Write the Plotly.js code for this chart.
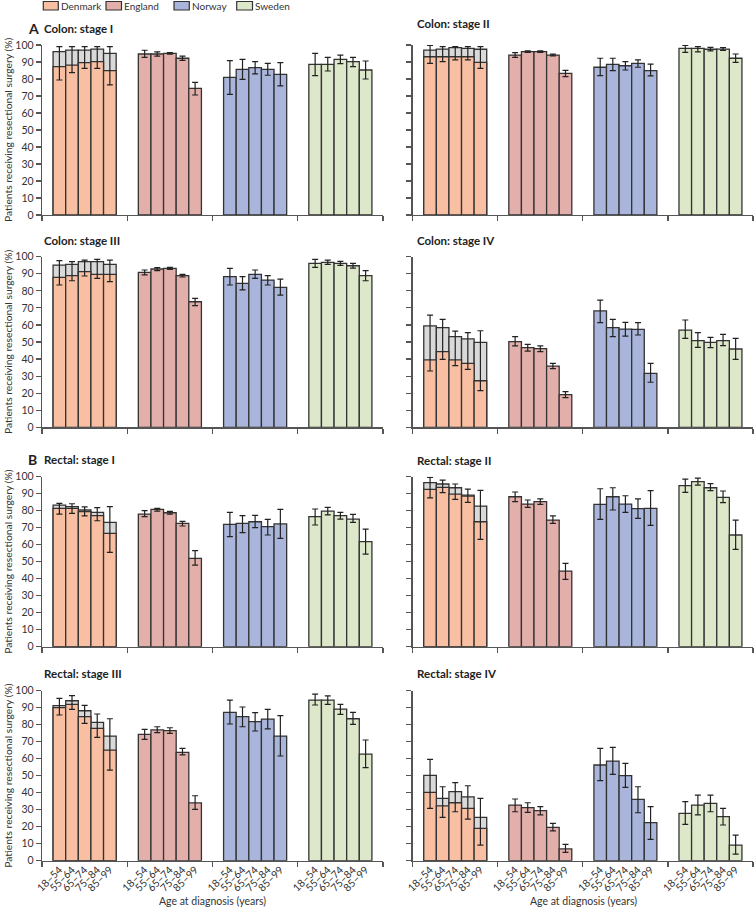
<!DOCTYPE html>
<html>
<head>
<meta charset="utf-8">
<script src="https://cdn.plot.ly/plotly-3.0.1.min.js"></script>
<style>
html,body{margin:0;padding:0;background:#fff;}
#chart{width:755px;height:908px;}
</style>
</head>
<body>
<div id="chart"></div>
<script>
// ---------- categories ----------
const ages = ['18–54', '55–64', '65–74', '75–84', '85–99'];
const countries = ['Denmark', 'England', 'Norway', 'Sweden'];
const panelTitles = ['Colon: stage I', 'Colon: stage II', 'Colon: stage III', 'Colon: stage IV',
                     'Rectal: stage I', 'Rectal: stage II', 'Rectal: stage III', 'Rectal: stage IV'];
const yTicks = [0, 10, 20, 30, 40, 50, 60, 70, 80, 90, 100];

// ---------- Colon stage I ----------
const colon1_DK = [87.3, 88.2, 89.6, 90.2, 84.9];
const colon1_DKgrey = [96.1, 97.0, 97.0, 97.6, 95.1];
const colon1_DKlo = [79.4, 83.7, 86.3, 86.3, 76.5];
const colon1_DKhi = [99.0, 99.0, 99.0, 99.0, 99.0];
const colon1_EN = [94.7, 94.7, 95.1, 92.2, 74.5];
const colon1_ENlo = [92.7, 93.5, 94.6, 91.0, 70.6];
const colon1_ENhi = [96.9, 95.9, 95.6, 93.4, 78.0];
const colon1_NO = [81.0, 85.7, 86.7, 85.7, 82.7];
const colon1_NOlo = [71.0, 79.8, 83.0, 82.2, 75.9];
const colon1_NOhi = [90.8, 91.6, 90.2, 89.2, 89.6];
const colon1_SE = [88.6, 88.6, 91.6, 90.2, 85.3];
const colon1_SElo = [82.0, 84.7, 89.0, 87.3, 80.0];
const colon1_SEhi = [95.1, 92.7, 94.1, 92.7, 90.6];

// ---------- Colon stage II ----------
const colon2_DK = [93.1, 93.1, 93.1, 93.1, 89.8];
const colon2_DKgrey = [97.0, 97.6, 98.4, 98.0, 97.5];
const colon2_DKlo = [89.2, 90.2, 91.2, 91.2, 86.3];
const colon2_DKhi = [99.8, 99.0, 99.0, 99.0, 99.0];
const colon2_EN = [94.1, 96.1, 96.1, 94.1, 83.3];
const colon2_ENlo = [92.7, 95.6, 95.7, 93.6, 81.4];
const colon2_ENhi = [95.5, 96.6, 96.5, 94.6, 85.1];
const colon2_NO = [86.9, 88.6, 87.8, 89.2, 84.9];
const colon2_NOlo = [82.0, 84.9, 85.3, 86.9, 81.8];
const colon2_NOhi = [92.2, 92.2, 90.2, 91.2, 88.8];
const colon2_SE = [98.0, 98.0, 97.5, 97.6, 92.2];
const colon2_SElo = [95.7, 96.0, 96.5, 96.8, 89.8];
const colon2_SEhi = [99.8, 99.0, 98.6, 98.4, 94.7];

// ---------- Colon stage III ----------
const colon3_DK = [87.9, 88.9, 91.2, 89.6, 89.6];
const colon3_DKgrey = [95.1, 95.5, 97.1, 97.1, 95.5];
const colon3_DKlo = [83.4, 85.9, 88.7, 87.3, 85.4];
const colon3_DKhi = [97.7, 97.1, 98.0, 98.4, 98.0];
const colon3_EN = [90.8, 92.8, 93.2, 88.9, 73.6];
const colon3_ENlo = [89.3, 91.8, 92.6, 88.1, 71.3];
const colon3_ENhi = [92.2, 93.6, 93.8, 89.6, 75.6];
const colon3_NO = [88.3, 84.4, 89.6, 86.3, 82.0];
const colon3_NOlo = [83.4, 80.5, 87.3, 83.4, 77.5];
const colon3_NOhi = [93.2, 88.3, 92.2, 88.9, 86.9];
const colon3_SE = [96.1, 96.7, 96.1, 94.7, 88.9];
const colon3_SElo = [93.8, 95.5, 94.9, 93.3, 85.9];
const colon3_SEhi = [98.4, 98.0, 97.3, 96.1, 91.8];

// ---------- Colon stage IV ----------
const colon4_DK = [39.5, 44.3, 39.5, 37.5, 27.3];
const colon4_DKgrey = [59.4, 58.4, 53.1, 51.8, 49.8];
const colon4_DKlo = [33.0, 39.8, 36.1, 34.0, 21.5];
const colon4_DKhi = [65.8, 63.3, 56.4, 55.5, 56.6];
const colon4_EN = [50.2, 46.7, 46.1, 35.9, 19.1];
const colon4_ENlo = [47.7, 44.7, 44.3, 34.4, 17.4];
const colon4_ENhi = [53.1, 48.6, 47.7, 37.5, 20.9];
const colon4_NO = [68.2, 58.4, 57.6, 57.4, 31.6];
const colon4_NOlo = [61.3, 53.1, 53.5, 54.1, 26.4];
const colon4_NOhi = [74.6, 63.3, 61.5, 61.3, 37.5];
const colon4_SE = [57.0, 50.8, 49.8, 50.8, 45.9];
const colon4_SElo = [52.1, 46.9, 46.7, 47.9, 39.8];
const colon4_SEhi = [62.9, 55.5, 52.7, 54.5, 52.1];

// ---------- Rectal stage I ----------
const rectal1_DK = [81.4, 81.4, 79.4, 77.1, 66.7];
const rectal1_DKgrey = [83.3, 82.4, 80.4, 79.0, 73.1];
const rectal1_DKlo = [78.0, 78.4, 76.9, 74.1, 55.5];
const rectal1_DKhi = [84.3, 84.1, 82.2, 81.8, 82.4];
const rectal1_EN = [78.0, 80.8, 78.8, 72.5, 52.0];
const rectal1_ENlo = [76.5, 79.8, 78.0, 71.0, 48.0];
const rectal1_ENhi = [80.0, 81.4, 79.6, 73.7, 56.5];
const rectal1_NO = [72.0, 72.5, 73.5, 70.6, 72.2];
const rectal1_NOlo = [64.7, 67.1, 70.0, 65.7, 63.7];
const rectal1_NOhi = [79.0, 77.1, 77.3, 74.9, 80.8];
const rectal1_SE = [76.5, 79.8, 77.1, 75.1, 61.8];
const rectal1_SElo = [71.6, 77.5, 75.1, 73.1, 54.5];
const rectal1_SEhi = [81.0, 82.0, 79.0, 77.8, 69.2];

// ---------- Rectal stage II ----------
const rectal2_DK = [92.5, 93.7, 89.8, 88.6, 73.5];
const rectal2_DKgrey = [96.5, 95.7, 93.5, 89.2, 82.7];
const rectal2_DKlo = [87.6, 90.6, 86.7, 84.9, 63.1];
const rectal2_DKhi = [99.6, 98.0, 95.7, 92.7, 92.0];
const rectal2_EN = [88.2, 83.9, 85.3, 74.5, 44.5];
const rectal2_ENlo = [85.3, 82.0, 83.7, 72.5, 39.6];
const rectal2_ENhi = [91.0, 86.3, 86.9, 76.9, 49.0];
const rectal2_NO = [83.7, 88.2, 83.9, 81.2, 81.4];
const rectal2_NOlo = [74.9, 80.4, 79.0, 75.5, 71.4];
const rectal2_NOhi = [92.9, 93.5, 88.8, 86.9, 91.8];
const rectal2_SE = [94.7, 97.1, 93.5, 87.8, 65.7];
const rectal2_SElo = [90.8, 95.1, 91.8, 84.7, 57.3];
const rectal2_SEhi = [98.6, 99.2, 95.9, 91.6, 74.5];

// ---------- Rectal stage III ----------
const rectal3_DK = [90.0, 92.0, 84.7, 77.8, 65.1];
const rectal3_DKgrey = [91.2, 94.1, 88.2, 81.4, 73.3];
const rectal3_DKlo = [85.7, 89.0, 80.8, 72.5, 53.3];
const rectal3_DKhi = [95.5, 97.1, 91.4, 86.3, 83.5];
const rectal3_EN = [74.3, 76.9, 76.5, 63.7, 34.0];
const rectal3_ENlo = [71.4, 75.3, 74.9, 62.2, 30.2];
const rectal3_ENhi = [77.3, 78.8, 78.2, 66.1, 38.2];
const rectal3_NO = [87.3, 84.7, 81.8, 83.3, 73.3];
const rectal3_NOlo = [80.4, 78.8, 76.3, 77.5, 61.6];
const rectal3_NOhi = [94.5, 90.4, 87.1, 89.0, 85.3];
const rectal3_SE = [94.5, 94.5, 89.2, 83.5, 62.7];
const rectal3_SElo = [91.6, 92.0, 86.1, 80.2, 54.7];
const rectal3_SEhi = [98.0, 96.9, 92.0, 87.3, 71.0];

// ---------- Rectal stage IV ----------
const rectal4_DK = [40.2, 32.2, 34.1, 30.8, 19.0];
const rectal4_DKgrey = [50.2, 36.7, 40.6, 37.6, 25.5];
const rectal4_DKlo = [30.8, 25.5, 28.8, 24.5, 9.2];
const rectal4_DKhi = [59.6, 43.5, 45.9, 44.1, 36.7];
const rectal4_EN = [32.7, 31.2, 29.4, 19.6, 6.9];
const rectal4_ENlo = [28.8, 28.4, 26.9, 17.5, 4.9];
const rectal4_ENhi = [36.3, 34.1, 31.8, 22.0, 9.6];
const rectal4_NO = [56.3, 58.6, 50.0, 36.1, 22.4];
const rectal4_NOlo = [47.1, 50.8, 43.1, 28.2, 12.5];
const rectal4_NOhi = [66.1, 66.7, 57.3, 43.5, 31.8];
const rectal4_SE = [27.8, 32.7, 33.7, 25.9, 9.2];
const rectal4_SElo = [21.4, 26.9, 28.8, 21.0, 3.9];
const rectal4_SEhi = [34.7, 38.6, 38.6, 30.8, 15.1];

// ---------- assemble ----------
const panels = [
  {DK: colon1_DK, DKgrey: colon1_DKgrey, DKlo: colon1_DKlo, DKhi: colon1_DKhi,
   EN: colon1_EN, ENlo: colon1_ENlo, ENhi: colon1_ENhi, NO: colon1_NO, NOlo: colon1_NOlo, NOhi: colon1_NOhi,
   SE: colon1_SE, SElo: colon1_SElo, SEhi: colon1_SEhi},
  {DK: colon2_DK, DKgrey: colon2_DKgrey, DKlo: colon2_DKlo, DKhi: colon2_DKhi,
   EN: colon2_EN, ENlo: colon2_ENlo, ENhi: colon2_ENhi, NO: colon2_NO, NOlo: colon2_NOlo, NOhi: colon2_NOhi,
   SE: colon2_SE, SElo: colon2_SElo, SEhi: colon2_SEhi},
  {DK: colon3_DK, DKgrey: colon3_DKgrey, DKlo: colon3_DKlo, DKhi: colon3_DKhi,
   EN: colon3_EN, ENlo: colon3_ENlo, ENhi: colon3_ENhi, NO: colon3_NO, NOlo: colon3_NOlo, NOhi: colon3_NOhi,
   SE: colon3_SE, SElo: colon3_SElo, SEhi: colon3_SEhi},
  {DK: colon4_DK, DKgrey: colon4_DKgrey, DKlo: colon4_DKlo, DKhi: colon4_DKhi,
   EN: colon4_EN, ENlo: colon4_ENlo, ENhi: colon4_ENhi, NO: colon4_NO, NOlo: colon4_NOlo, NOhi: colon4_NOhi,
   SE: colon4_SE, SElo: colon4_SElo, SEhi: colon4_SEhi},
  {DK: rectal1_DK, DKgrey: rectal1_DKgrey, DKlo: rectal1_DKlo, DKhi: rectal1_DKhi,
   EN: rectal1_EN, ENlo: rectal1_ENlo, ENhi: rectal1_ENhi, NO: rectal1_NO, NOlo: rectal1_NOlo, NOhi: rectal1_NOhi,
   SE: rectal1_SE, SElo: rectal1_SElo, SEhi: rectal1_SEhi},
  {DK: rectal2_DK, DKgrey: rectal2_DKgrey, DKlo: rectal2_DKlo, DKhi: rectal2_DKhi,
   EN: rectal2_EN, ENlo: rectal2_ENlo, ENhi: rectal2_ENhi, NO: rectal2_NO, NOlo: rectal2_NOlo, NOhi: rectal2_NOhi,
   SE: rectal2_SE, SElo: rectal2_SElo, SEhi: rectal2_SEhi},
  {DK: rectal3_DK, DKgrey: rectal3_DKgrey, DKlo: rectal3_DKlo, DKhi: rectal3_DKhi,
   EN: rectal3_EN, ENlo: rectal3_ENlo, ENhi: rectal3_ENhi, NO: rectal3_NO, NOlo: rectal3_NOlo, NOhi: rectal3_NOhi,
   SE: rectal3_SE, SElo: rectal3_SElo, SEhi: rectal3_SEhi},
  {DK: rectal4_DK, DKgrey: rectal4_DKgrey, DKlo: rectal4_DKlo, DKhi: rectal4_DKhi,
   EN: rectal4_EN, ENlo: rectal4_ENlo, ENhi: rectal4_ENhi, NO: rectal4_NO, NOlo: rectal4_NOlo, NOhi: rectal4_NOhi,
   SE: rectal4_SE, SElo: rectal4_SElo, SEhi: rectal4_SEhi}
];

// ---------- styling ----------
const colors = {Denmark: '#F8BFA2', England: '#E3AFAB', Norway: '#A9B5DA', Sweden: '#DDE7C9'};
const greyColor = '#D9D9D9';
const edge = '#333333';
const axisColor = '#555555';
const FONT = 'Lato, "Liberation Sans", Arial, sans-serif';
const PITCH = 0.148;

// layout geometry (pixels)
const W = 755, H = 908, ML = 42, MR = 2, MT = 45, MB = 47;
const PW = W - ML - MR, PH = H - MT - MB;
const px2x = p => (p - ML) / PW;
const py2y = p => (H - MB - p) / PH;
const colX = [[42, 383], [412.7, 753]];
const rowY = [[45, 215], [256.7, 427.3], [476.7, 646.7], [690.7, 860.7]];
const titleY = [[28, 23], [240.3, 240.7], [459.5, 460], [673, 673]];

const xPos = g => ages.map((a, i) => g + 0.5 + (i - 2) * PITCH);

const traces = [];
const layout = {
  width: W, height: H,
  margin: {l: ML, r: MR, t: MT, b: MB},
  paper_bgcolor: '#ffffff', plot_bgcolor: '#ffffff',
  barmode: 'overlay',
  showlegend: false,
  font: {family: FONT, size: 10.5, color: '#333'},
  annotations: [], shapes: []
};

panels.forEach((p, k) => {
  const row = Math.floor(k / 2), col = k % 2;
  const n = k + 1;
  const xa = 'x' + (n === 1 ? '' : n), ya = 'y' + (n === 1 ? '' : n);
  const xkey = 'xaxis' + (n === 1 ? '' : n), ykey = 'yaxis' + (n === 1 ? '' : n);
  const ebar = (vals, lo, hi) => ({
    type: 'data', symmetric: false,
    array: vals.map((v, i) => hi[i] - v),
    arrayminus: vals.map((v, i) => v - lo[i]),
    color: '#222', thickness: 1.2, width: 3
  });
  // Denmark grey (upper) bar
  traces.push({type: 'bar', xaxis: xa, yaxis: ya, x: xPos(0), y: p.DKgrey, width: PITCH,
    marker: {color: greyColor, line: {color: edge, width: 1.3}}, hoverinfo: 'y'});
  // Denmark coloured bar
  traces.push({type: 'bar', xaxis: xa, yaxis: ya, x: xPos(0), y: p.DK, width: PITCH,
    marker: {color: colors.Denmark, line: {color: edge, width: 1.3}},
    error_y: ebar(p.DK, p.DKlo, p.DKhi), hoverinfo: 'y'});
  [['England', p.EN, p.ENlo, p.ENhi], ['Norway', p.NO, p.NOlo, p.NOhi], ['Sweden', p.SE, p.SElo, p.SEhi]]
    .forEach(([c, v, lo, hi], j) => {
      traces.push({type: 'bar', xaxis: xa, yaxis: ya, x: xPos(j + 1), y: v, width: PITCH,
        marker: {color: colors[c], line: {color: edge, width: 1.3}},
        error_y: ebar(v, lo, hi), hoverinfo: 'y'});
    });

  layout[xkey] = {
    domain: [px2x(colX[col][0]), px2x(colX[col][1])],
    anchor: ya, range: [0, 4], fixedrange: true,
    tickvals: [0, 1, 2, 3, 4], ticks: 'outside', ticklen: 5, tickwidth: 1.2, tickcolor: axisColor,
    showticklabels: false, showline: true, linecolor: axisColor, linewidth: 1.3,
    showgrid: false, zeroline: false
  };
  layout[ykey] = {
    domain: [py2y(rowY[row][1]), py2y(rowY[row][0])],
    anchor: xa, range: [0, 100], fixedrange: true,
    tickvals: yTicks, ticks: 'outside', ticklen: 5, tickwidth: 1.2, tickcolor: axisColor,
    showticklabels: col === 0, tickfont: {family: FONT, size: 10.5, color: '#333'},
    showline: true, linecolor: axisColor, linewidth: 1.3,
    showgrid: false, zeroline: false
  };

  // panel title
  layout.annotations.push({
    text: panelTitles[k], xref: 'paper', yref: 'paper',
    x: px2x(col === 0 ? 42 : 415), y: py2y(titleY[row][col]),
    xanchor: 'left', yanchor: 'middle', showarrow: false,
    font: {family: FONT, size: 11.5, color: '#222', weight: 700}
  });
  // y-axis title on left column
  if (col === 0) {
    layout.annotations.push({
      text: 'Patients receiving resectional surgery (%)', xref: 'paper', yref: 'paper',
      x: px2x(8), y: py2y((rowY[row][0] + rowY[row][1]) / 2), textangle: -90,
      xanchor: 'center', yanchor: 'middle', showarrow: false,
      font: {family: FONT, size: 10.3, color: '#333'}
    });
  }
});

// age labels on the bottom row via overlaid axes
[[7, 9], [8, 10]].forEach(([base, ov]) => {
  const allPos = [].concat(xPos(0), xPos(1), xPos(2), xPos(3));
  const allText = [].concat(ages, ages, ages, ages);
  layout['xaxis' + ov] = {
    overlaying: 'x' + base, anchor: 'y' + base, side: 'bottom', range: [0, 4], fixedrange: true,
    tickvals: allPos, ticktext: allText, ticks: '', tickangle: -45,
    tickfont: {family: FONT, size: 10.5, color: '#333'},
    showline: false, showgrid: false, zeroline: false
  };
  traces.push({type: 'scatter', mode: 'markers', xaxis: 'x' + ov, yaxis: 'y' + base,
    x: allPos, y: allPos.map(() => null), hoverinfo: 'skip', showlegend: false});
});

// x-axis titles
[[212.5], [583]].forEach(([cx]) => {
  layout.annotations.push({
    text: 'Age at diagnosis (years)', xref: 'paper', yref: 'paper',
    x: px2x(cx), y: py2y(901), xanchor: 'center', yanchor: 'middle', showarrow: false,
    font: {family: FONT, size: 10.5, color: '#333'}
  });
});

// section letters
[['A', 28], ['B', 459.5]].forEach(([t, py]) => {
  layout.annotations.push({
    text: t, xref: 'paper', yref: 'paper', x: px2x(26), y: py2y(py),
    xanchor: 'left', yanchor: 'middle', showarrow: false,
    font: {family: FONT, size: 14, color: '#222', weight: 700}
  });
});

// legend (swatches + labels)
const legendSw = [[43.3, 58.3], [106, 121.5], [174, 189.3], [236.7, 252.5]];
countries.forEach((c, i) => {
  layout.shapes.push({type: 'rect', xref: 'paper', yref: 'paper',
    x0: px2x(legendSw[i][0]), x1: px2x(legendSw[i][1]), y0: py2y(10), y1: py2y(1.5),
    fillcolor: colors[c], line: {color: edge, width: 1.2}});
  layout.annotations.push({text: c, xref: 'paper', yref: 'paper',
    x: px2x(legendSw[i][1] + 0.5), y: py2y(5.8), xanchor: 'left', yanchor: 'middle', showarrow: false,
    font: {family: FONT, size: 10, color: '#333'}});
});

Plotly.newPlot('chart', traces, layout, {displayModeBar: false, staticPlot: true});
</script>
</body>
</html>
